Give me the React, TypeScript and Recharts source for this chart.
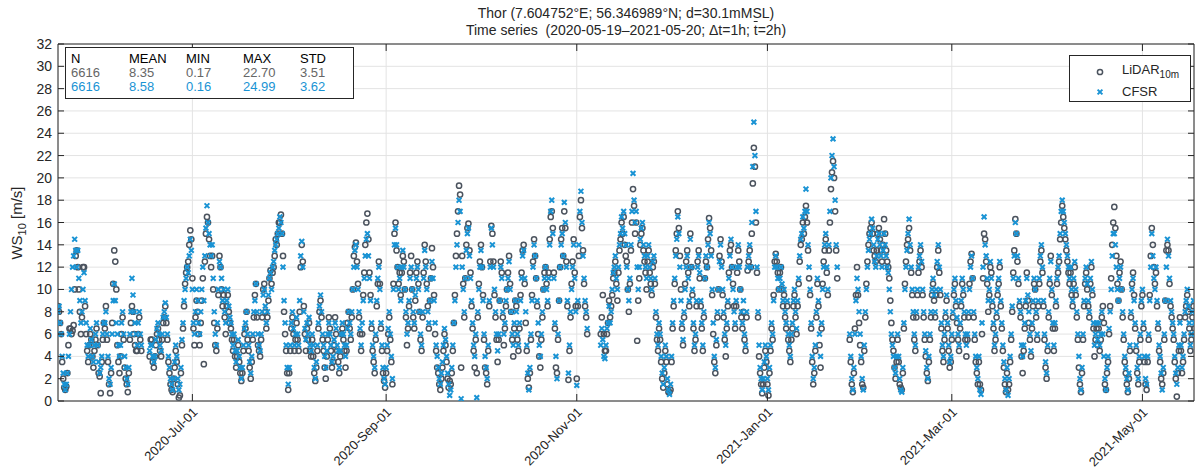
import React from 'react';
import {
  ScatterChart,
  Scatter,
  XAxis,
  YAxis,
  CartesianGrid,
  ReferenceLine
} from 'recharts';

// 8-hourly values (00, 08, 16 UTC), starting 2020-05-19; null = no data
const cfsrMay20 = [8, 8.5, 7, 6, 4, 2.5, 1.5, 1, 1.5, 2.5, 4, 6, 8, 10, 12, 13, 14.5, 13.5, 12, 13.5, 11, 9, 7, 8, 10, 11.5, 9, 7, 5, 4, 5, 6.5, 5.5, 4, 3.5, 5, 6, 7, 5];
const cfsrJun20 = [3.5, 2.5, 3, 4, 6, 7, 7, 8, 6, 4, 2, 1.5, 3, 6, 9, 10.5, 9, 7, 6, 5, 4, 5, 7, 8, 6, 4, 3, 2, 1.5, 3, 6, 8, 11, 9.5, 8, 7, 6, 5, 7, 8, 6, 5, null, null, null, null, null, null, null, 4.5, 5, 5, 4, 3.5, 4, 5.5, 6.5, 7, 6, 5, 4.5, 6, 7.5, 8, 8.8, 7.5, 6, 4, 3, 2, 1.5, 1, 2, 3.5, 5, 4, 2, 1, 1.5, 3, 5.5, 7, 9, 10, 11, 12, 11.5, 13, 14.5, 13.5];
const cfsrJul20 = [10, 7, 6, 8, 10, 9, 7, 6, 8, 10, 12, 9, 13, 15.5, 17.5, 16, 15, 14, 13, 14, 11, 8, 6, 5, 7, 10, 12.5, 12, 11, 9, 10, 8, 7, 9, 10, 8.5, 7.5, 7, 6, 5, 6, 4.5, 3.5, 4.5, 5.5, 4, 3, 2, 3, 5, 6.5, 7, 8, 6, 5, 3.5, 2.5, 4, 6, 8, 9, 10.5, 8, 6, 5, 4.5, 6, 8, 9.5, 10, 8.5, 7, 8, 9.5, 11, 11.5, 10, 12, 12.5, 13.5, 14, 14.5, 15, 15.5, 16.5, 16, 15, 12, 9, 7, 5, 3, 1.5];
const cfsrAug20 = [3, 5, 7, 8, 6.5, 5, 6, 7.5, 6, 5, 9, 13, 14.3, 12, 8, 6.5, 5.5, 7, 6, 7.5, 5, 4.5, 6, 5, 3, 2, 3.5, 5, 7, 8.5, 9.5, 8, 6, 5, 4, 3, 4.5, 6, 7, 6, 5, 3.5, 4, 5.5, 7, 6.5, 5, 4.5, 3, 4.5, 6, 7, 6, 5, 4, 5, 6.5, 8, 7, 6, 8, 10, 12, 13.5, 14, 12, 10, 8, 6.5, 5, 7, 9, 11, 13, 14.5, 15, 13, 11, 9, 7, 5, 4, 3, 6, 9, 11, 12, 10, 7, 5, 3, 2, 1.5];
const cfsrSep20 = [3, 5, 6.5, 8, 6, 4, 2, 10, 14, 15.5, 14, 12, 10, 11, 9, 12, 13.5, 12, 10, 8, 6, 7, 9, 11, 12, 10, 8, 7, 9.5, 11, 12, 10, 8, 6, 5, 8, 11, 13.5, 12, 10, 8, 7, 9, 11, 12.5, 11, 9, 7, 5, 4, 3, 2, 1.5, 2.5, 3.5, 5, 6.5, 5.5, 4, 2.5, 1.5, 0.5, 1, 3, 5, 7, 9, 12, 14, 16, 18, 17, 0.2, 12, 10, 8, 11, 13.5, 15, 15.5, 13, 11, 9, 7, 5, 4, 6, 0.3, 8, 10];
const cfsrOct20 = [12, 13.5, 12, 9, 6, 4, 3, 2, 5, 9, 12, 15.5, 14, 12, 10, 8, 6, 4.5, 6, 9, 12, 11, 8, 6, 7, 9, 10, 11, 12.5, 10, 8, 6, 5, 7, 9, 8, 6, 5, 7, 9, 11, 13, 13.5, 11, 8, 5, 2.5, 1, 3, 6, 9, 12, 14, 13, 11, 9, 7, 5, 4, 6, 8, 10, 11, 12, 10, 9, 11, 14, 17, 18, 15, 11, 7, 4, 2, 6, 9, 12, 14, 15, 13, 17.8, 16, 12, 9, 2.5, 5, 8, 10, 12, 14, 11, 8];
const cfsrNov20 = [1.4, 9, 14, 17, 18.8, 16, 13, 11, 9, 8, 6.5, null, null, null, null, null, null, null, null, null, null, null, null, 5, 6.5, 5.5, 4, 3.8, 5, 6.5, 7, 8.5, 7, 8, 10, 11.5, 12, 13, 11, 10, 12, 14, 15, 16.5, 15.5, 17, 15, 14, 12, 10, 9, 11, 14, 17, 20.4, 18, 16, 17, 12, 10, 12, 14.5, 15.5, 16, 14, 13, 12, 11, 13, 14, 12, 11, 10, 12.5, 13, 11, 8, 6, 5, 7, 6, 4, 2.5, 1.5, 3, 5, 4, 2, 1, 0.6];
const cfsrDec20 = [1.5, 4, 7, 9, 11, 13, 14.5, 16.5, 15, 12, 9, 7, 5.5, 8, 10, 12, 13, 11, 9, 14.5, 12, 10, 7, 5, 6, 9, 12, 13, 11.5, 9, 7, 5, 8, 11, 13, 12, 14, 16, 15, 13, 10, 7, 4, 3, 5.5, 8, 10, 12.5, 14, 12, 10, 8, 6, 5, 7, 9, 11, 13, 14.5, 12, 10, 8, 7, 9, 12, 14, 12, 10, 8, 7, 9, 6, 5, 8, 12, 13, 14, 12, 16, 21, 25, 22, 17, 12, 8, 5, 3, 2, 1, 2, 3.5, 5, 4];
const cfsrJan21 = [2, 1, 3, 5, 7, 6, 9, 12, 13, 12, 11, 10, 11, 12, 10.5, 9, 10, 8, 7, 9, 6, 5, 4, 6, 7, 9, 10, 8, 6.5, 9, 11, 13, 14.5, 15, 16.5, 15.5, 17, 19, 17, 14, 12, 10, 7, 4, 2, 3, 5, 8, 11, 9, 6, 4, 7, 10, 12, 14, 15, 12, 10, 14, 17, 20, 22, 23.5, 21, 18, 14, 12, null, null, null, null, null, null, null, null, null, null, null, 6, 4, 2, 1, 3, 6, 9, 11, 10, 8, 6, 4, 2, 1];
const cfsrFeb21 = [5, 8, 10, 12, 13.5, 14.5, 15, 16.3, 15.5, 14, 12.5, 12, 13, 14.5, 15, 14, 13, 12, 13.5, 15, 14, 13, 12, 11.5, 10, 8, 6, 5, 4, 3, 2.5, 4, 6, 4, 2, 1, 0.8, 3, 7, 10, 12, 13.5, 15, 16.3, 14, 12, 10, 8, 6, 5, 8, 10, 12, 13, 14, 12.5, 10, 8, 6, 4.5, 3, 2, 4, 6, 8, 10, 11, 9.5, 8, 10, 12.5, 14, 12, 10, 7, 5, 4, 6, 8, 9.5, 7, 5, 3.5, 4];
const cfsrMar21 = [6, 8, 10, 11, 9, 7.5, 6, 5, 7, 9, 11, 10, 8, 6, 5, 6, 8, 10, 12, 13, 11, 8, 6, 4, 3, 2, 4, 1, 0.6, 7, 12, 16.5, 14, 13, 11, 9, 10, 12.5, 11, 9, 7, 5, 6, 8, 10, 11, 12.5, 9, 7, 5, 3.5, 2, 1, 3, 0.5, 2, 4, 6, 8.5, 11, 13, 16, 15, 13, 11, 9, 8, 5, 4, 5, 7, 9, 11, 9.5, 8, 6, 4.5, 7, 9, 11, 10, 8, 6, 9, 11, 13, 14, 12, 9, 6, 3.5, 2.5, 5];
const cfsrApr21 = [8, 11, 12.5, 10, 7, 5, 7, 9, 11, 12, 13, 15, 17, 18, 17, 16, 15, 14, 13, 12, 11, 12, 10, 9, 11, 12.5, 10, 8, 6, 4, 2, 1, 3, 6, 9, 11, 12, 10.5, 9, 8, 11, 12.5, 10, 7, 5, 6, 7, 5.5, 7, 5, 6, 8, 6, 4, 2, 1, 3, 4, 6.5, 8, 10, 13, 15, 15, 14, 12, 10, 9, 11, 12, 10, 8, 6, 4, 3, 2, 1, 2.5, 5, 8, 10, 11, 9, 7, 5, 3, 2, 4, 6, 9];
const cfsrMay21 = [10, 7, 4, 2, 1.5, 4, 6, 9, 12, 15, 13, 11, 10, 12, 9, 7, 5, 4, 2.5, 1, 3, 6, 9, 12, 14.5, 13, 11, 9, 8, 7, 6, 4, 2.5, 1.5, 3, 5, 7, 5, 3, 4, 6, 8, 9, 10, 8.5, 7, 5, 6, 8, 9, 7];

const lidarMay20 = [8.5, 8, 7, 6, 3.5, 2, 1.2, 1, 1.3, 2.5, 5, 6.5, 6.5, 6, 6.3, 6.8, 10, 13, 13.5, 12, 10, 8, 6, 7.5, 12, 12, 8.5, 6, 4.5, 3.5, 5, 6, 5.5, 4, 3, 4.5, 5.5, 6.5, 5];
const lidarJun20 = [2.5, 2.2, 0.7, 3.5, 5.5, 7, 6.5, 8.5, 5.5, 3.5, 1.5, 0.7, 2.5, 7, 10.5, 13.5, 12.5, 10, 5, 3.5, 2.5, 4, 6, 7.5, 5.5, 3, 2, 1.5, 0.8, 2.5, 5.5, 7, 8.5, 8, 6, 5, 4.5, 4.5, 6, 7.5, 5.5, 4.5, null, null, null, null, null, null, null, 4, 5.5, 5.5, 3.5, 3, 4, 5, 6, 6.5, 5.5, 4.5, 4, 5.5, 7, 7.5, 8.5, 7, 5.5, 3.5, 2.5, 1.5, 1, 0.8, 2, 3, 4.5, 3.5, 1.5, 0.3, 0.5, 2.5, 5, 6.5, 8.5, 10.5, 11.5, 12, 12.5, 14, 15.3, 14.5];
const lidarJul20 = [11, 6.5, 5, 7.5, 9, 8, 6, 5, 7, 9, 11, 3.3, 12.5, 15, 16.5, 16, 14.5, 13, 12, 13, 10, 7, 5, 4.5, 6.5, 9.5, 13, 12, 10, 8.5, 9.5, 7.5, 6, 8.5, 9.5, 8, 7, 6.5, 5.5, 4.5, 5.5, 4, 3, 4, 5, 3.5, 2.5, 1.8, 2.5, 4.5, 6, 6.5, 8, 5.5, 4.5, 3, 2, 3.5, 5.5, 7.5, 9.5, 10.5, 7.5, 5, 4.5, 4, 5.5, 7.5, 10, 10.5, 8, 6.5, 7.5, 9, 11, 11.7, 10.5, 11.5, 12, 13, 14.5, 14, 15, 16, 16, 16.7, 15, 13, 8, 6, 4.5, 2.5, 1];
const lidarAug20 = [2.5, 4.5, 6.5, 7.5, 6, 4.5, 5.5, 7, 5.5, 4.5, 8, 12, 14, 12.5, 8.5, 6, 4.5, 6.5, 5.5, 7, 4.5, 4, 5.5, 4, 2.5, 1.8, 3, 4.5, 6.5, 8, 9, 7.5, 5.5, 4.5, 3, 2, 4, 5.5, 7.5, 6.5, 4.5, 3, 3.5, 5, 7.5, 6, 4.5, 3.5, 2.5, 4, 6, 6.5, 5.5, 4.5, 3, 4.5, 7, 8, 6.5, 5.5, 7.5, 10, 13, 13.8, 14.2, 12.5, 10.5, 7.5, 6, 4.5, 6, 9.5, 11.5, 14, 16, 16.8, 14.5, 11.5, 9.5, 6.5, 4.5, 3.5, 2.5, 5.5, 8.5, 10.5, 12.5, 10.5, 6.5, 4.5, 2.5, 1.8, 1.2];
const lidarSep20 = [2.5, 4.5, 6, 7.5, 5.5, 3.5, 1.5, 10.5, 15, 16, 13.5, 12, 10.5, 11.5, 9.5, 11.5, 13, 12.5, 10, 7.5, 5, 6.5, 8.5, 11.5, 13, 10, 7.5, 6.5, 9, 11.5, 12.5, 10.5, 8, 5.5, 4.5, 7.5, 11.5, 14, 12.5, 10.5, 8.5, 6.5, 9, 11, 13.7, 12, 9.5, 6, 4.5, 3, 2.5, 1.5, 1, 2, 3, 4.5, 6, 5, 3.5, 2, 1.2, 1.8, 1.5, 2.5, 4.5, 7, 9.5, 13, 15, 17, 19.3, 18.5, 3, 13, 10.5, 7.5, 11, 14, 15.5, 15.9, 13.5, 11.5, 8.5, 6.5, 4.5, 3, 5.5, 2.5, 7.5, 10.5];
const lidarOct20 = [12.5, 14, 12, 9.5, 5.5, 3, 2.5, 1.5, 4.5, 8.5, 12.5, 15.7, 15, 12.5, 9.5, 7.5, 5.5, 3.5, 5.5, 9, 12.5, 11.5, 7.5, 5, 6.5, 8.5, 10, 11.5, 13, 10.5, 8, 5.5, 4, 6.5, 9, 8.5, 5.5, 4.5, 6.5, 9.5, 11.5, 13.5, 14, 10.5, 7, 4.5, 2, 1.2, 2.5, 5.5, 9.5, 12.5, 14.5, 13, 11, 8.5, 6, 4, 3, 5.5, 7.5, 10, 11.5, 12, 10.5, 8.5, 11.5, 14.5, 16.5, 17, 15.5, 11.5, 6.5, 3, 2.5, 5.5, 9, 12, 14.5, 15.5, 13, 17, 15.5, 12.5, 8.5, 1.9, 4.5, 7.5, 10.5, 12.5, 14.5, 11.5, 8.5];
const lidarNov20 = [2, 8.5, 13, 16.5, 18, 15.5, 13.5, 10.5, 8.5, 7.5, 6, null, null, null, null, null, null, null, null, null, null, null, null, 6, 7.5, 9.5, 6, 4.5, 4.5, 6, 7, 9, 7.5, 8.5, 9.5, 11, 11.5, 12.5, 10.5, 9, 11.5, 13.5, 14.5, 16, 15, 16.5, 14, 13, 12.5, 10, 8, 10.5, 13.5, 16, 19, 17.5, 15, 16, 5.4, 9, 11, 14, 15, 15.5, 13.5, 12.5, 11.5, 10, 12.5, 13.5, 11.5, 10.5, 9.5, 12, 12.5, 10.5, 7.5, 5.5, 4.5, 6.5, 5.5, 3.5, 2, 1.2, 2.5, 4.5, 3.5, 1.5, 0.8, 0.8];
const lidarDec20 = [1, 3.5, 6.5, 8.5, 10.5, 13.5, 15, 17, 15.5, 13, 10, 6.5, 5, 7.5, 10.5, 12.5, 13.5, 11.5, 8.5, 15, 12, 9.5, 6.5, 4.5, 5.5, 8.5, 12.5, 13.5, 11, 8.5, 6.5, 4.5, 7.5, 11, 12.5, 12, 14.5, 16.4, 15.5, 13.5, 9.5, 6, 3.5, 2.5, 5, 7.5, 10, 13, 14.5, 12.5, 9.5, 7.5, 5.5, 4, 6.5, 8.5, 11.5, 13.5, 14, 12, 10.5, 8.5, 6.5, 8.5, 11.5, 13.5, 12.5, 10, 7.5, 6.5, 8, 5.5, 4.5, 7.5, 11.7, 12.5, 13.5, 12, 15, 19.5, 22.7, 21, 16, 11.5, 7.5, 4, 2.5, 1.5, 0.7, 1.5, 3, 4.5, 3.5];
const lidarJan21 = [1.5, 0.5, 2.5, 4.5, 6.5, 5.5, 9.5, 12.5, 13.2, 12.5, 11.5, 10, 11.5, 12, 10, 8.5, 9.5, 7.5, 6.5, 8.5, 5.5, 4.5, 3.5, 5.5, 6.5, 8.5, 9.5, 7.5, 6, 8.5, 10.5, 12.5, 14, 14.5, 16, 15, 16.5, 17.5, 16, 13.5, 11, 9.5, 6.5, 3.5, 1.5, 2.5, 4.5, 7.5, 10.5, 8.5, 5, 3, 6.5, 10.5, 12.5, 13.5, 14.5, 11.5, 9.5, 13.5, 16, 19, 20.5, 21.5, 20, 17, 13.5, 11, null, null, null, null, null, null, null, null, null, null, null, 5.5, 3.5, 1.5, 0.8, 2.5, 6.5, 9.5, 12, 9.5, 7, 5, 3.5, 1.5, 1.2];
const lidarFeb21 = [4.5, 7.5, 10.5, 12.5, 14, 15, 15.5, 16, 15, 13.5, 13, 12.5, 13.5, 15, 15.5, 14.5, 13.5, 12.5, 14, 16.3, 15, 13.5, 12.5, 12, 11, 9, 7, 5.5, 4.5, 3, 2, 3.5, 5.5, 3.5, 1.5, 1.2, 1, 2.5, 6.5, 10.5, 12.5, 14, 14.5, 15.5, 13.5, 11.5, 9.5, 7.5, 5.5, 4.5, 7.5, 9.5, 11.5, 12.5, 13.5, 12, 9.5, 7.5, 5.5, 4, 2.5, 1.8, 3.5, 5.5, 7.5, 9.5, 10.5, 9, 7.5, 9.5, 12, 13.5, 11.5, 9.5, 6.5, 4.5, 3.5, 5.5, 7.5, 9, 6.5, 4.5, 3, 3.5];
const lidarMar21 = [5.5, 7.5, 9.5, 10.5, 8.5, 7, 5.5, 4.5, 6.5, 8.5, 10.5, 9.5, 7.5, 5.5, 4, 5.5, 7.5, 10.5, 12.5, 13.2, 11, 7.5, 5.5, 3.5, 2.5, 1.5, 3.5, 1.5, 1, 6, 11, 15, 14.5, 12.5, 10.5, 8, 9.5, 12, 11.5, 8.5, 6.5, 4.5, 5.5, 7.5, 9.5, 10.5, 12, 8.5, 6.5, 4.5, 3, 1.5, 0.8, 2.5, 1, 1.5, 3.5, 5.5, 8, 11.5, 13.5, 16.3, 15, 12.5, 10.5, 8.5, 7.5, 4, 2.5, 4.5, 6.5, 8.5, 11.5, 9, 7, 5.5, 4, 6.5, 8.5, 10.5, 10, 7.5, 5.5, 8.5, 10.5, 12.5, 13.5, 11.5, 8.5, 5.5, 3, 2, 4.5];
const lidarApr21 = [7.5, 10.5, 13, 9.5, 6.5, 4.5, 6.5, 8.5, 10.5, 11.5, 12.5, 14.5, 16, 17.5, 16.5, 15.5, 14.5, 13.5, 12.5, 11.5, 10.5, 11.5, 9.5, 8.5, 10.5, 12, 9.5, 7.5, 5.5, 3, 1.5, 0.8, 2.5, 5.5, 8.5, 10.5, 11.5, 10, 8.5, 7.5, 10.5, 12, 9.5, 6.5, 4, 5.5, 6.5, 5, 6.5, 4.5, 5.5, 7.5, 8.5, 7, 1.5, 1, 2.5, 3.5, 6, 8.5, 11, 14, 16, 17.4, 15.5, 13, 10.5, 9, 11.5, 12.5, 10, 7.5, 5.5, 3.5, 2.5, 1.5, 0.8, 2, 4.5, 7.5, 10.5, 11.5, 9.5, 6.5, 4.5, 2.5, 1.5, 3.5, 5.5, 8.5];
const lidarMay21 = [9.5, 6.5, 3.5, 1.5, 1, 3.5, 5.5, 9.5, 13, 15.5, 14, 12, 10.5, 11.5, 8.5, 6.5, 4.5, 3.5, 2, 1.5, 2.5, 5.5, 9, 13.5, 14, 13.5, 10.5, 8.5, 7.5, 6.5, 5.5, 3.5, 2, 0.4, 2.5, 4.5, 7.5, 4.5, 2.5, 3.5, 5.5, 7.5, 8.5, 9.5, 8, 6.5, 4.5, 5.5, 7.5, 8.5, 6.5];

const cfsrMonths = [cfsrMay20, cfsrJun20, cfsrJul20, cfsrAug20, cfsrSep20, cfsrOct20, cfsrNov20, cfsrDec20, cfsrJan21, cfsrFeb21, cfsrMar21, cfsrApr21, cfsrMay21];
const lidarMonths = [lidarMay20, lidarJun20, lidarJul20, lidarAug20, lidarSep20, lidarOct20, lidarNov20, lidarDec20, lidarJan21, lidarFeb21, lidarMar21, lidarApr21, lidarMay21];

// x ticks: days since 2020-05-19
const xTicks = [43, 105, 166, 227, 286, 347];
const xTickLabels = ['2020-Jul-01', '2020-Sep-01', '2020-Nov-01', '2021-Jan-01', '2021-Mar-01', '2021-May-01'];
const yTicks = [0, 2, 4, 6, 8, 10, 12, 14, 16, 18, 20, 22, 24, 26, 28, 30, 32];

const statsHeader = ['N', 'MEAN', 'MIN', 'MAX', 'STD'];
const statsLidar = ['6616', '8.35', '0.17', '22.70', '3.51'];
const statsCfsr = ['6616', '8.58', '0.16', '24.99', '3.62'];

const PER_DAY = 3;
const X_MAX = 363.5;
const GRAY = '#4b535e';
const BLUE = '#1993d4';
const AXIS = '#262626';
const FONT = '"Liberation Sans", Arial, Helvetica, sans-serif';

const toPoints = (months: (number | null)[][]) => {
  const pts: { t: number; ws: number }[] = [];
  let i = 0;
  months.forEach(m => {
    m.forEach(v => {
      if (v !== null) pts.push({ t: i / PER_DAY, ws: v });
      i++;
    });
  });
  return pts;
};

const cfsrData = toPoints(cfsrMonths);
const lidarData = toPoints(lidarMonths);

const PLOT_LEFT = 58;
const PLOT_RIGHT = 1194;
const PLOT_TOP = 44;
const PLOT_BOTTOM = 401;

const YTick = (props: any) => {
  const { x, y, payload } = props;
  return (
    <g>
      <text x={x} y={y} dy={5} textAnchor="end" fontSize={14} fill={AXIS} fontFamily={FONT}>
        {payload.value}
      </text>
      <line x1={PLOT_LEFT} x2={PLOT_LEFT + 6} y1={y} y2={y} stroke={AXIS} />
      <line x1={PLOT_RIGHT - 6} x2={PLOT_RIGHT} y1={y} y2={y} stroke={AXIS} />
    </g>
  );
};

const XTick = (props: any) => {
  const { x, payload } = props;
  const idx = xTicks.indexOf(payload.value);
  const ty = PLOT_BOTTOM + 12;
  return (
    <g>
      <line x1={x} x2={x} y1={PLOT_BOTTOM} y2={PLOT_BOTTOM - 7} stroke={AXIS} />
      <line x1={x} x2={x} y1={PLOT_TOP} y2={PLOT_TOP + 7} stroke={AXIS} />
      <text
        x={x + 6}
        y={ty}
        textAnchor="end"
        fontSize={13}
        fill={AXIS}
        fontFamily={FONT}
        transform={`rotate(-45, ${x + 6}, ${ty})`}
      >
        {xTickLabels[idx]}
      </text>
    </g>
  );
};

const Circle = (p: any) => (
  <circle cx={p.cx} cy={p.cy} r={2.6} fill="none" stroke={GRAY} strokeWidth={1.5} />
);

const Cross = (p: any) => (
  <path
    d={`M${p.cx - 2.4},${p.cy - 2.4}L${p.cx + 2.4},${p.cy + 2.4}M${p.cx - 2.4},${p.cy + 2.4}L${p.cx + 2.4},${p.cy - 2.4}`}
    stroke={BLUE}
    strokeWidth={2}
  />
);

const statCols = [5, 63, 120, 177, 234];

const StatRow = ({ cells, color, top }: { cells: string[]; color: string; top: number }) => (
  <>
    {cells.map((s, i) => (
      <span key={i} style={{ position: 'absolute', left: statCols[i], top, color }}>{s}</span>
    ))}
  </>
);

export default function App() {
  return (
    <div style={{ position: 'absolute', left: 0, top: 0, width: 1198, height: 475, background: '#fff', fontFamily: FONT }}>
      <ScatterChart width={1198} height={475} margin={{ top: PLOT_TOP, right: 1198 - PLOT_RIGHT, left: 0, bottom: 0 }}>
        <CartesianGrid stroke="#e3e3e3" strokeWidth={1} />
        <XAxis
          type="number"
          dataKey="t"
          domain={[0, X_MAX]}
          ticks={xTicks}
          tick={<XTick />}
          tickLine={false}
          tickSize={0}
          height={475 - PLOT_BOTTOM}
          axisLine={{ stroke: AXIS }}
          interval={0}
          allowDataOverflow
        />
        <YAxis
          type="number"
          dataKey="ws"
          domain={[0, 32]}
          ticks={yTicks}
          tick={<YTick />}
          tickLine={false}
          tickSize={0}
          tickMargin={6}
          width={PLOT_LEFT}
          axisLine={{ stroke: AXIS }}
          interval={0}
          allowDataOverflow
        />
        <ReferenceLine y={32} stroke={AXIS} />
        <ReferenceLine x={X_MAX} stroke={AXIS} />
        <Scatter name="LiDAR" data={lidarData} shape={Circle} isAnimationActive={false} />
        <Scatter name="CFSR" data={cfsrData} shape={Cross} isAnimationActive={false} />
      </ScatterChart>

      <div style={{ position: 'absolute', left: PLOT_LEFT, width: PLOT_RIGHT - PLOT_LEFT, top: 5, textAlign: 'center', fontSize: 14, lineHeight: '17px', color: AXIS }}>
        <div>Thor (7.604752°E; 56.346989°N; d=30.1mMSL)</div>
        <div>
          Time series&nbsp;&nbsp;(2020-05-19–2021-05-20; Δt=1h; <span style={{ textDecoration: 'overline' }}>t</span>=2h)
        </div>
      </div>

      <div style={{ position: 'absolute', left: 18, top: (PLOT_TOP + PLOT_BOTTOM) / 2, transform: 'translate(-50%, -50%) rotate(-90deg)', fontSize: 15, color: AXIS, whiteSpace: 'nowrap' }}>
        WS<sub style={{ fontSize: 11 }}>10</sub> [m/s]
      </div>

      <div style={{ position: 'absolute', left: 65, top: 47, width: 287, height: 50, border: `1px solid ${AXIS}`, background: '#fff', fontSize: 13, lineHeight: '15px' }}>
        <StatRow cells={statsHeader} color="#000" top={3} />
        <StatRow cells={statsLidar} color="#666" top={17} />
        <StatRow cells={statsCfsr} color={BLUE} top={31} />
      </div>

      <div style={{ position: 'absolute', left: 1069, top: 55, width: 122, height: 47, border: `1px solid ${AXIS}`, background: '#fff', fontSize: 13, color: AXIS, boxSizing: 'border-box' }}>
        <svg width={20} height={40} style={{ position: 'absolute', left: 20, top: 4 }}>
          <circle cx={10} cy={12} r={2.6} fill="none" stroke={GRAY} strokeWidth={1.5} />
          <path d="M7.6,29.6L12.4,34.4M7.6,34.4L12.4,29.6" stroke={BLUE} strokeWidth={2} />
        </svg>
        <div style={{ position: 'absolute', left: 52, top: 6, whiteSpace: 'nowrap' }}>
          LiDAR<sub style={{ fontSize: 10 }}>10m</sub>
        </div>
        <div style={{ position: 'absolute', left: 52, top: 28 }}>CFSR</div>
      </div>
    </div>
  );
}
